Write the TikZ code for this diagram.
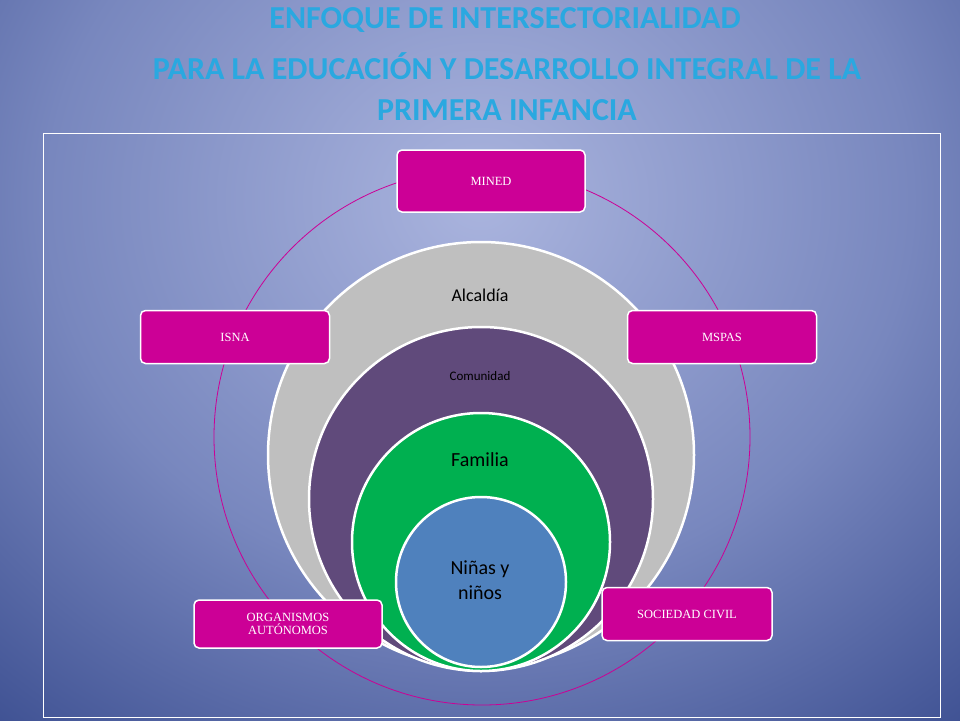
\documentclass[tikz,border=0pt]{standalone}
\usepackage{fontspec}
\setmainfont{Carlito}
\newfontfamily\boxfont{Liberation Serif}
\definecolor{ttl}{HTML}{2AA8E0}
\definecolor{mag}{HTML}{CC0096}
\definecolor{gr}{HTML}{BFBFBF}
\definecolor{pu}{HTML}{604A7B}
\definecolor{gn}{HTML}{00B050}
\definecolor{bl}{HTML}{4F81BD}
\pgfdeclareradialshading{bgshade}{\pgfpoint{0bp}{0bp}}{%
 color(0bp)=(rgb,255:red,170;green,180;blue,222);
 color(12bp)=(rgb,255:red,120;green,135;blue,190);
 color(25bp)=(rgb,255:red,40;green,60;blue,130);
 color(50bp)=(rgb,255:red,20;green,35;blue,100)}
\tikzset{
 ring/.style={circle,draw=white,line width=2.5pt,minimum size=#1,inner sep=0pt},
 mbox/.style={draw=white,line width=1.5pt,fill=mag,rounded corners=5pt,text=white,font=\boxfont\fontsize{12.5}{13}\selectfont,align=center,inner sep=0pt},
 ttext/.style={font=\bfseries\fontsize{32}{34}\selectfont,text=ttl}
}
\begin{document}
\begin{tikzpicture}[x=1pt,y=-1pt]
\useasboundingbox (0,0) rectangle (960,720);
\begin{scope}
\clip (0,0) rectangle (960,720);
\shade[shading=bgshade] (-420,-600) rectangle (1380,1000);
\end{scope}
\node[ttext] (t1) at (505,20) {ENFOQUE DE INTERSECTORIALIDAD};
\node[ttext] (t2) at (507,66) {PARA LA EDUCACIÓN Y DESARROLLO INTEGRAL DE LA};
\node[ttext] (t3) at (507,110) {PRIMERA INFANCIA};
\draw[white,line width=0.8pt] (43,133) rectangle (940,717);
\node[circle,draw=mag,line width=0.8pt,minimum size=536pt,inner sep=0pt] (big) at (482,437) {};
\node[ring=426pt,fill=gr] (c1) at (481,455) {};
\node[ring=344pt,fill=pu] (c2) at (481,499) {};
\node[ring=258pt,fill=gn] (c3) at (481,542) {};
\node[ring=170pt,fill=bl] (c4) at (481,582) {};
\node[font=\fontsize{18}{20}\selectfont] (l1) at (480,295) {Alcaldía};
\node[font=\fontsize{13}{15}\selectfont] (l2) at (480,376) {Comunidad};
\node[font=\fontsize{20}{22}\selectfont] (l3) at (480,460) {Familia};
\node[align=center,font=\fontsize{20}{25}\selectfont] (l4) at (480,580) {Niñas y\\niños};
\node[mbox,minimum width=188pt,minimum height=62pt] (mined) at (491,181) {MINED};
\node[mbox,minimum width=189pt,minimum height=53pt] (mspas) at (722,337) {MSPAS};
\node[mbox,minimum width=189pt,minimum height=53pt] (isna) at (235,337) {ISNA};
\node[mbox,minimum width=188pt,minimum height=48pt] (org) at (288,624) {ORGANISMOS\\AUTÓNOMOS};
\node[mbox,minimum width=170pt,minimum height=53pt] (soc) at (687,614) {SOCIEDAD CIVIL};
\end{tikzpicture}
\end{document}
